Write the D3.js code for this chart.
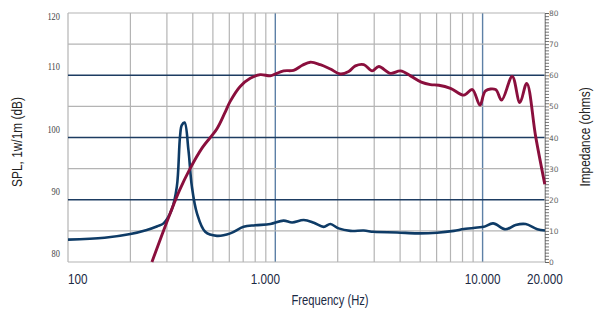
<!DOCTYPE html>
<html>
<head>
<meta charset="utf-8">
<script src="https://cdn.jsdelivr.net/npm/d3@7/dist/d3.min.js"></script>
<style>
  html, body { margin: 0; padding: 0; background: #fff; }
  svg { display: block; }
</style>
</head>
<body>
<svg id="chart" width="611" height="322"></svg>
<script>
// SPL response (Hz, dB)
const splFreq = [254, 285, 311, 345, 388, 443, 523, 570, 606, 677, 757, 846, 946, 1000, 1097, 1225, 1350, 1476, 1649, 1844, 2061, 2260, 2434, 2672, 2931, 3158, 3594, 4018, 4490, 5060, 5600, 6150, 7000, 8120, 8920, 9710, 10330, 11550, 12350, 13900, 15130, 16320, 18040, 19950];
const splDb = [80, 84.5, 87.8, 91.5, 95, 98.3, 101.4, 103.9, 105.8, 108.2, 109.5, 110.1, 109.9, 110.2, 110.7, 110.8, 111.6, 112.1, 111.7, 111.0, 110.2, 110.6, 111.5, 111.7, 110.7, 111.4, 110.3, 110.7, 109.9, 108.9, 108.5, 108.4, 107.9, 106.8, 107.7, 105.2, 107.5, 107.7, 106.0, 109.8, 105.6, 108.7, 100.1, 92.5];

// Impedance (Hz, ohms)
const impFreq = [100, 150, 200, 240, 270, 289, 316, 335, 347, 354, 365, 381, 396, 419, 459, 523, 607, 703, 800, 946, 1096, 1205, 1371, 1535, 1711, 1844, 2020, 2302, 2672, 2985, 3869, 4835, 6040, 7266, 8120, 9430, 10130, 11240, 12910, 14430, 16130, 18370, 20000];
const impOhm = [7.2, 7.8, 9.0, 10.3, 11.5, 12.4, 16.7, 24.2, 40.3, 44.0, 44.8, 36.0, 24.2, 15.6, 9.7, 8.4, 9.2, 11.3, 11.8, 12.2, 13.3, 12.7, 13.5, 12.6, 11.3, 12.2, 10.8, 10.0, 10.1, 9.7, 9.5, 9.2, 9.4, 10.0, 10.6, 11.1, 11.3, 12.4, 10.5, 11.9, 12.2, 10.5, 10.1];

// Axis ticks and labels
const freqLabels = [100, 1000, 10000, 20000];
const freqLabelText = ["100", "1.000", "10.000", "20.000"];
const splTicks = [80, 90, 100, 110, 120];
const impTicks = [0, 10, 20, 30, 40, 50, 60, 70, 80];

const svg = d3.select("#chart");
const plotLeft = 68, plotRight = 545, plotTop = 13, plotBottom = 262;

const x = d3.scaleLog().domain([100, 20000]).range([plotLeft, plotRight]);
const ySpl = d3.scaleLinear().domain([80, 120]).range([plotBottom, plotTop]);
const yImp = d3.scaleLinear().domain([0, 80]).range([plotBottom, plotTop]);

const grey = "#b4b4b4", navy = "#1d3c62", steel = "#5d80a6";
// condensed look: regular sans squeezed horizontally with textLength
const sans = "'Liberation Sans', Arial, sans-serif";
function squeeze(sel, ratio) {
  sel.each(function () {
    const w = this.getComputedTextLength();
    d3.select(this).attr("textLength", w * ratio).attr("lengthAdjust", "spacingAndGlyphs");
  });
}

const grid = svg.append("g");

// vertical grid: 1-9 per decade, decade lines tinted
const vLines = [];
for (let dec = 100; dec <= 1000; dec *= 10) {
  for (let m = 1; m <= 9; m++) vLines.push(dec * m);
}
vLines.push(10000);
grid.selectAll("line.v").data(vLines).join("line")
  .attr("x1", d => x(d)).attr("x2", d => x(d))
  .attr("y1", plotTop).attr("y2", plotBottom)
  .attr("stroke", d => (d === 1000 || d === 10000) ? steel : grey)
  .attr("stroke-width", d => (d === 1000 || d === 10000) ? 1.4 : 1.2);

// horizontal grid: every 5 dB, 10 dB lines dark
const hLines = d3.range(80, 121, 5);
grid.selectAll("line.h").data(hLines).join("line")
  .attr("x1", plotLeft).attr("x2", plotRight)
  .attr("y1", d => ySpl(d)).attr("y2", d => ySpl(d))
  .attr("stroke", d => (d % 10 === 0 && d > 80 && d < 120) ? navy : grey)
  .attr("stroke-width", d => (d % 10 === 0 && d > 80 && d < 120) ? 1.4 : 1.2);

// right border
grid.append("line").attr("x1", plotRight).attr("x2", plotRight).attr("y1", plotTop).attr("y2", plotBottom)
  .attr("stroke", grey).attr("stroke-width", 1.2);

// impedance axis with 1-ohm minor ticks
const impAxis = d3.axisRight(yImp).tickValues(d3.range(0, 81, 1)).tickSize(4).tickFormat("");
const ia = svg.append("g").attr("transform", `translate(${plotRight},0)`).call(impAxis);
ia.select(".domain").attr("stroke", "#999");
ia.selectAll(".tick line").attr("stroke", "#555").attr("stroke-width", 0.8);

svg.append("g").selectAll("text").data(impTicks).join("text")
  .attr("x", plotRight + 4).attr("y", d => yImp(d) + 3)
  .attr("font-family", "'DejaVu Sans', sans-serif").attr("font-size", 7.5)
  .attr("fill", "#666").text(d => d);

// SPL labels
svg.append("g").selectAll("text").data(splTicks).join("text")
  .attr("x", 60).attr("y", d => d === 120 ? ySpl(d) + 7 : ySpl(d) - 5)
  .attr("text-anchor", "end")
  .attr("font-family", "'Liberation Serif', serif").attr("font-size", 10.5)
  .attr("fill", "#444").text(d => d)
  .call(squeeze, 0.8);

// frequency labels
const fdx = [0, -10, 0, 0];
const fanchor = ["start", "middle", "middle", "middle"];
svg.append("g").selectAll("text").data(freqLabels).join("text")
  .attr("x", (d, i) => x(d) + fdx[i]).attr("y", 284)
  .attr("text-anchor", (d, i) => fanchor[i])
  .attr("font-family", sans).attr("font-size", 15)
  .attr("fill", "#1b2a44").text((d, i) => freqLabelText[i])
  .call(squeeze, 0.78);

// axis titles
svg.append("text").attr("x", 330).attr("y", 305).attr("text-anchor", "middle")
  .attr("font-family", sans).attr("font-size", 14).attr("fill", "#1b2a44")
  .text("Frequency (Hz)").call(squeeze, 0.8);
svg.append("text").attr("transform", "translate(17,142) rotate(-90)")
  .attr("text-anchor", "middle").attr("dominant-baseline", "central")
  .attr("font-family", sans).attr("font-size", 14).attr("fill", "#222")
  .text("SPL, 1w/1m (dB)").call(squeeze, 0.85);
svg.append("text").attr("transform", "translate(585,137) rotate(-90)")
  .attr("text-anchor", "middle").attr("dominant-baseline", "central")
  .attr("font-family", sans).attr("font-size", 14).attr("fill", "#222")
  .text("Impedance (ohms)").call(squeeze, 0.85);

// curves
const impData = impFreq.map((f, i) => [f, impOhm[i]]);
const splData = splFreq.map((f, i) => [f, splDb[i]]);

svg.append("path").datum(impData)
  .attr("d", d3.line().x(d => x(d[0])).y(d => yImp(d[1])).curve(d3.curveCatmullRom.alpha(0.5)))
  .attr("fill", "none").attr("stroke", "#0e3b66").attr("stroke-width", 2.6)
  .attr("stroke-linejoin", "round");

svg.append("path").datum(splData)
  .attr("d", d3.line().x(d => x(d[0])).y(d => ySpl(d[1])).curve(d3.curveCatmullRom.alpha(0.5)))
  .attr("fill", "none").attr("stroke", "#8a0f3d").attr("stroke-width", 2.9)
  .attr("stroke-linejoin", "round");
</script>
</body>
</html>
